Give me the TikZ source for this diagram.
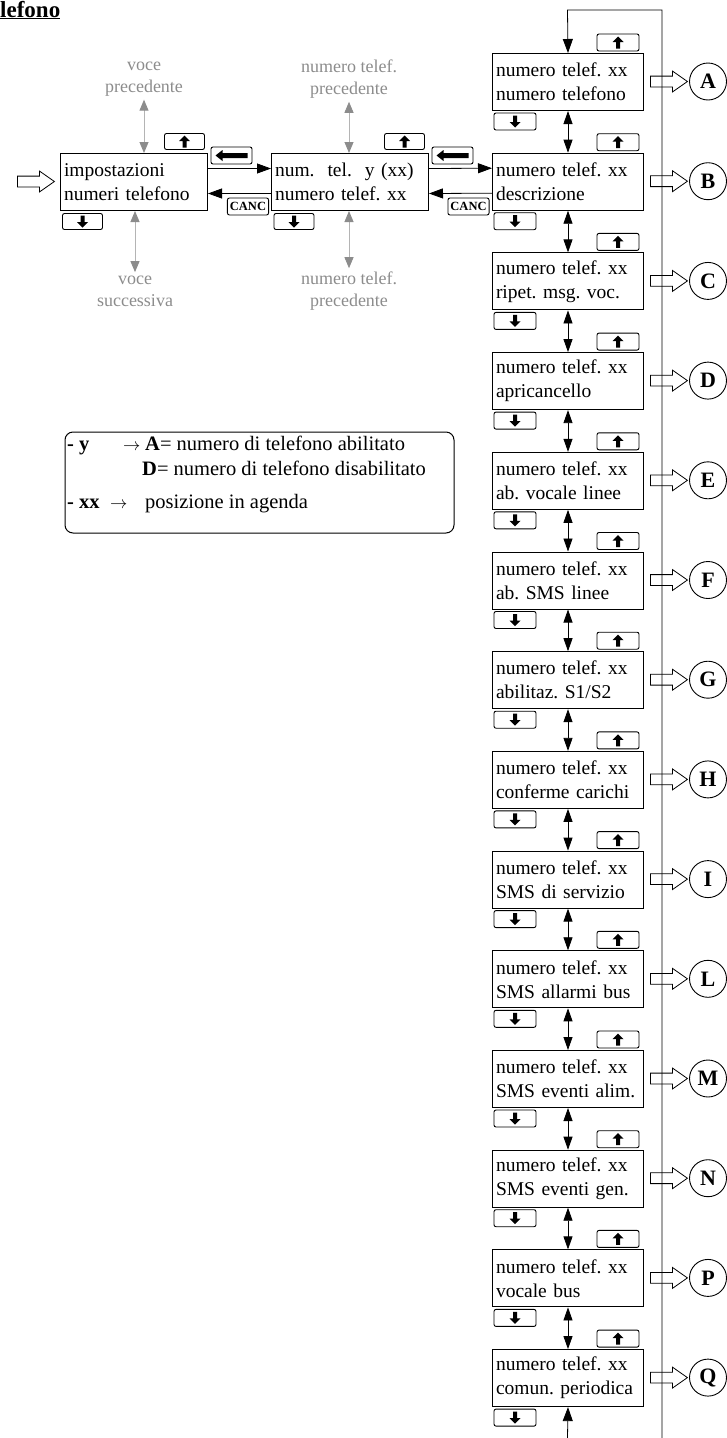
\documentclass[tikz,border=0pt]{standalone}
\usepackage{fontspec}
\setmainfont{Liberation Serif}
\usetikzlibrary{arrows.meta,shapes.arrows,positioning}
\frenchspacing

\definecolor{gline}{RGB}{180,180,180}
\definecolor{gtip}{RGB}{140,140,140}

\tikzset{
  menu/.style={draw, line width=1pt, minimum height=57pt, inner xsep=3.5pt, inner ysep=2pt, align=left, anchor=north west, font=\fontsize{19.5}{24}\selectfont},
  key/.style={draw, rounded corners=2pt, minimum width=40pt, minimum height=16pt, inner sep=0pt, line width=0.9pt},
  upkey/.style={key, path picture={\fill[sharp corners, shift={(path picture bounding box.center)}] (0,-6) -- (5.5,-0.5) -- (2,-0.5) -- (2,6) -- (-2,6) -- (-2,-0.5) -- (-5.5,-0.5) -- cycle;}},
  downkey/.style={key, path picture={\fill[sharp corners, shift={(path picture bounding box.center)}] (0,6) -- (5.5,0.5) -- (2,0.5) -- (2,-6) -- (-2,-6) -- (-2,0.5) -- (-5.5,0.5) -- cycle;}},
  backkey/.style={key, minimum width=41pt, minimum height=17pt, path picture={\fill[sharp corners, shift={(path picture bounding box.center)}] (-16,0) -- (-9,-5.5) -- (-9,-2.5) -- (16,-2.5) -- (16,2.5) -- (-9,2.5) -- (-9,5.5) -- cycle;}},
  canckey/.style={draw, rounded corners=2pt, inner xsep=2.5pt, inner ysep=0pt, minimum height=17pt, line width=0.9pt, font=\bfseries\fontsize{12.5}{12.5}\selectfont},
  gtext/.style={text=gtip, align=center, font=\fontsize{18}{22}\selectfont},
  garr/.style={gline, line width=0.9pt, {Triangle[length=11pt,width=9pt,color=gtip]}-{Triangle[length=11pt,width=9pt,color=gtip]}},
  link/.style={line width=0.8pt, -{Triangle[length=14pt,width=10pt]}},
  dbl/.style={line width=0.8pt, {Triangle[length=13pt,width=9pt]}-{Triangle[length=13pt,width=9pt]}},
  hollow/.style={single arrow, draw, fill=white, line width=0.8pt, minimum height=37pt, inner xsep=0pt, inner ysep=5pt, single arrow head extend=5pt, single arrow tip angle=70, anchor=west},
  letter/.style={circle, draw, line width=0.9pt, minimum size=37pt, inner sep=0pt, font=\bfseries\fontsize{22}{22}\selectfont},
  ltext/.style={anchor=base west, inner sep=0pt},
  larrow/.style={anchor=base west, inner sep=0pt, font=\fontsize{16}{16}\selectfont}
}

\begin{document}
\begin{tikzpicture}[x=1pt, y=-1pt, font=\fontsize{20.5}{24}\selectfont]
\useasboundingbox (0,0) rectangle (726,1438);

\node[anchor=base west, inner sep=0pt, font=\bfseries\fontsize{23}{24}\selectfont] (title) at (0,17) {\underline{lefono}};

% menu entry and phone number
\node[menu, text width=140pt] (bl) at (60,153) {impostazioni\\numeri telefono};
\node[menu, text width=150pt] (bm) at (271,153) {num.\ \ tel.\ \ y (xx)\\numero telef. xx};
\node[hollow] (in) at (17,181.5) {};

\node[upkey] (ul) at (184.5,141.5) {};
\node[downkey] (dl) at (82.5,221.5) {};
\node[upkey] (um) at (404.5,141.5) {};
\node[downkey] (dm) at (294,221.5) {};

\node[gtext] (gp1) at (144,79) {voce\\precedente};
\node[gtext] (gn1) at (135,291) {voce\\successiva};
\node[gtext] (gp2) at (349,79) {numero telef.\\precedente};
\node[gtext] (gn2) at (349,291) {numero telef.\\precedente};
\draw[garr] (gp1) -- (bl.north -| gp1);
\draw[garr] (bl.south -| gn1) -- (gn1);
\draw[garr] (gp2) -- (bm.north -| gp2);
\draw[garr] (bm.south -| gn2) -- (gn2);

% column of entries
\foreach \lt/\txt [count=\i from 0] in {A/numero telefono, B/descrizione, C/ripet. msg. voc., D/apricancello, E/ab. vocale linee, F/ab. SMS linee, G/{abilitaz. S1/S2}, H/conferme carichi, I/SMS di servizio, L/SMS allarmi bus, M/SMS eventi alim., N/SMS eventi gen., P/vocale bus, Q/comun. periodica}{
  \pgfmathsetmacro\yt{53+99.7*\i}
  \node[menu, text width=144pt] (r\lt) at (492,\yt) {numero telef. xx\\\txt};
  \node[upkey, minimum width=42pt, minimum height=17pt] (u\lt) at (618,\yt-10.5) {};
  \node[downkey, minimum width=42pt, minimum height=17pt] (d\lt) at (515,\yt+68.5) {};
  \node[hollow] (h\lt) at (650,\yt+28.5) {};
  \node[letter] (c\lt) at (708,\yt+28.5) {\lt};
}
\foreach \a/\b in {A/B,B/C,C/D,D/E,E/F,F/G,G/H,H/I,I/L,L/M,M/N,N/P,P/Q}
  \draw[dbl] (r\a.south) -- (r\b.north);

% enter / cancel
\draw[link] ([yshift=13.5pt]bl.east) -- ([yshift=13.5pt]bm.west);
\draw[link] ([yshift=-11.5pt]bm.west) -- ([yshift=-11.5pt]bl.east);
\draw[link] ([yshift=13.5pt]bm.east) -- ([yshift=13.5pt]rB.west);
\draw[link] ([yshift=-11.5pt]rB.west) -- ([yshift=-11.5pt]bm.east);
\node[backkey] (k1) at (231.5,155.5) {};
\node[backkey] (k2) at (452.5,155.5) {};
\node[canckey] (x1) at (248,206.5) {CANC};
\node[canckey] (x2) at (468.5,206.5) {CANC};

% loop
\coordinate (qb) at (567.5,1438);
\coordinate (lp1) at (662,1438);
\coordinate (lp2) at (662,10);
\coordinate (lp3) at (567.5,10);
\draw[link] (qb) -- (rQ.south);
\draw[link] (lp1) -- (lp2) -- (lp3) -- (rA.north);

% legend
\node[draw, line width=1pt, rounded corners=8pt, minimum width=389pt, minimum height=101pt, inner sep=0pt] (leg) at (259.5,482.5) {};
\node[ltext] (ly) at (67,450) {\textbf{- y}};
\node[larrow] (ay) at (123,450) {$\rightarrow$};
\node[ltext] (lA) at (145,450) {\textbf{A}= numero di telefono abilitato};
\node[ltext] (lD) at (142,475) {\textbf{D}= numero di telefono disabilitato};
\node[ltext] (lx) at (67,508) {\textbf{- xx}};
\node[larrow] (ax) at (110,508) {$\rightarrow$};
\node[ltext] (lp) at (145,508) {posizione in agenda};
\end{tikzpicture}
\end{document}
